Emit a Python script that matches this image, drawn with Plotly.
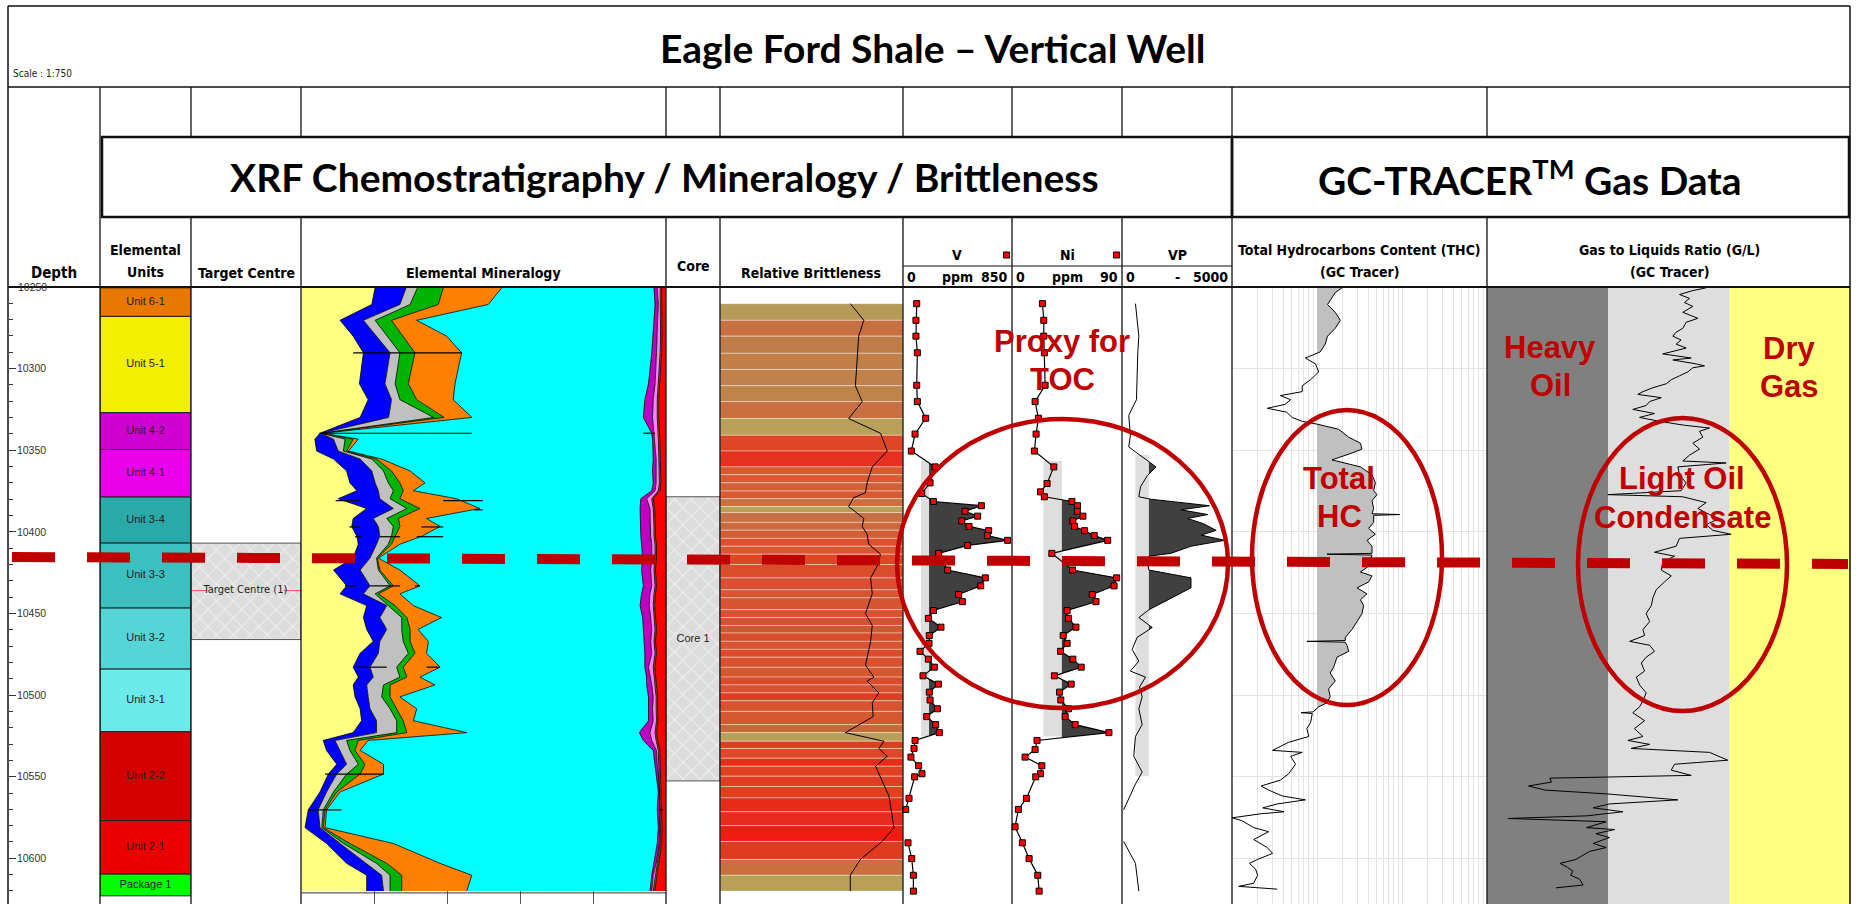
import math
import plotly.graph_objects as go

W, H = 1856, 904
LOG_TOP_PX = 287
DEPTH_RANGE = [10628, 10250]

SANS = "Liberation Sans, Arial, sans-serif"
NARROW = "Liberation Sans Narrow, Arial Narrow, DejaVu Sans Condensed, sans-serif"
TITLE = "Lato, Carlito, Calibri, sans-serif"
RED = "#C00000"

# ---------------- Elemental units ----------------
unit_names = ["Unit 6-1", "Unit 5-1", "Unit 4-2", "Unit 4-1", "Unit 3-4", "Unit 3-3",
              "Unit 3-2", "Unit 3-1", "Unit 2-2", "Unit 2-1", "Package 1"]
unit_tops = [10250.5, 10268.0, 10327.0, 10349.6, 10378.7, 10406.9, 10446.7, 10484.1,
             10522.5, 10576.9, 10609.7]
unit_bases = [10268.0, 10327.0, 10349.6, 10378.7, 10406.9, 10446.7, 10484.1, 10522.5,
              10576.9, 10609.7, 10623.0]
unit_colors = ["#E87800", "#F2F000", "#D000D0", "#E800E8", "#2AA9A9", "#3CBFBF",
               "#55D5D5", "#6CEAEA", "#D40000", "#EC0000", "#00FF00"]

# ---------------- Target / core intervals ----------------
target_top, target_base, target_mid = 10406.9, 10466.0, 10436.0
core_top, core_base = 10378.5, 10552.6

# ---------------- Elemental mineralogy (cumulative %, left to right) ----------------
min_depth = [10250.5, 10260.7, 10270.4, 10280.1, 10290.3, 10309.3, 10319.0, 10329.9, 10339.6, 10343.2,
             10350.5, 10355.4, 10362.7, 10370.0, 10374.8, 10379.7, 10385.7, 10391.8, 10396.7, 10402.7,
             10407.6, 10416.1, 10423.4, 10433.1, 10438.0, 10445.2, 10452.5, 10459.8, 10467.1, 10474.4,
             10482.9, 10489.0, 10493.8, 10501.1, 10508.4, 10515.7, 10523.0, 10527.8, 10533.9, 10542.4,
             10548.4, 10559.4, 10570.3, 10581.2, 10590.9, 10603.1, 10610.4, 10620.1]
edge_yellow = [20.3, 19.4, 10.7, 14.3, 17.1, 16.0, 18.4, 16.2, 5.2, 3.8,
               4.3, 8.9, 12.5, 13.4, 15.3, 10.2, 18.0, 14.3, 13.9, 15.3,
               15.7, 14.3, 8.9, 12.5, 10.7, 18.0, 17.1, 18.0, 19.8, 16.2,
               14.3, 15.7, 14.3, 14.8, 16.2, 16.6, 14.3, 6.1, 7.0, 9.8,
               7.5, 5.2, 2.0, 1.1, 7.0, 12.5, 18.0, 18.0]
edge_blue = [28.8, 27.1, 17.1, 20.7, 24.4, 23.0, 24.8, 24.0, 5.4, 8.9,
             10.2, 16.2, 19.4, 20.3, 21.2, 21.6, 25.3, 19.8, 21.2, 21.6,
             20.7, 18.9, 16.2, 18.9, 17.1, 23.5, 21.6, 23.5, 21.6, 21.2,
             18.9, 19.8, 18.0, 18.4, 18.9, 20.7, 20.7, 9.3, 10.7, 12.5,
             9.8, 7.0, 4.7, 5.2, 10.7, 18.0, 22.1, 22.6]
edge_gray = [31.9, 29.9, 20.3, 23.5, 27.1, 25.8, 27.1, 36.3, 5.6, 12.1,
             11.6, 19.4, 22.6, 23.9, 25.3, 24.4, 29.0, 23.5, 25.3, 24.8,
             23.9, 20.7, 21.2, 24.4, 20.3, 23.9, 27.6, 27.6, 28.0, 29.4,
             26.2, 27.1, 22.6, 22.1, 24.4, 26.2, 26.2, 12.5, 13.4, 15.7,
             12.5, 8.9, 6.1, 5.7, 11.6, 20.7, 24.4, 24.4]
edge_green = [39.0, 37.6, 24.8, 28.0, 31.2, 29.4, 31.7, 39.2, 5.8, 14.3,
              12.5, 20.7, 24.8, 27.1, 28.0, 27.1, 32.6, 26.7, 27.1, 25.8,
              24.8, 20.9, 21.6, 25.3, 21.2, 25.8, 29.0, 29.9, 29.9, 31.2,
              28.0, 29.0, 24.4, 24.4, 26.2, 28.0, 29.0, 15.7, 14.8, 17.5,
              16.2, 9.8, 6.6, 6.1, 13.4, 23.5, 27.6, 27.6]
edge_orange = [55.0, 51.3, 31.7, 39.9, 44.0, 42.2, 41.7, 46.8, 6.0, 15.7,
               13.0, 22.1, 29.9, 34.0, 30.8, 42.6, 49.0, 34.4, 38.1, 33.1,
               27.1, 21.2, 27.1, 32.6, 27.1, 30.8, 38.5, 32.1, 34.9, 34.4,
               38.1, 32.6, 36.7, 27.1, 31.7, 30.8, 45.4, 18.4, 16.2, 22.6,
               22.6, 10.7, 7.0, 6.6, 25.3, 38.1, 46.8, 45.4]
edge_cyan = [96.7, 97.0, 96.7, 96.5, 96.1, 95.2, 94.2, 93.8, 96.1, 96.3,
             96.5, 96.5, 96.3, 96.5, 96.1, 93.1, 92.9, 92.9, 92.9, 93.1,
             93.3, 93.6, 93.3, 93.8, 93.3, 92.9, 93.6, 93.8, 93.8, 94.2,
             94.2, 94.7, 94.7, 95.2, 95.2, 95.2, 92.7, 93.8, 96.5, 97.0,
             97.4, 97.9, 97.6, 97.9, 97.6, 96.7, 96.1, 95.6]
edge_magenta = [97.6, 97.9, 97.7, 97.6, 97.4, 97.0, 96.5, 96.3, 96.7, 97.0,
                97.1, 97.3, 97.3, 97.3, 97.0, 94.7, 95.6, 95.6, 95.8, 95.8,
                96.1, 96.1, 95.8, 96.1, 95.6, 95.4, 95.8, 96.1, 95.8, 96.1,
                95.2, 95.8, 96.1, 96.5, 96.3, 96.5, 95.6, 96.1, 97.4, 97.6,
                97.9, 98.2, 98.2, 98.4, 98.2, 97.3, 96.5, 96.1]
edge_pink = [98.4, 98.5, 98.5, 98.5, 98.4, 97.9, 97.6, 97.6, 97.9, 97.9,
             98.0, 98.1, 98.2, 98.2, 97.9, 96.1, 96.5, 96.7, 96.7, 96.7,
             97.0, 97.0, 96.7, 97.0, 96.7, 96.5, 96.7, 97.0, 96.7, 97.0,
             96.5, 96.7, 97.0, 97.3, 97.3, 97.4, 97.0, 97.3, 97.9, 98.0,
             98.2, 98.4, 98.5, 98.5, 98.4, 97.6, 97.0, 96.5]
edge_brown = [98.8, 98.9, 98.9, 98.9, 98.8, 98.3, 98.0, 98.0, 98.3, 98.3,
              98.4, 98.5, 98.6, 98.6, 98.3, 96.5, 96.9, 97.1, 97.1, 97.1,
              97.4, 97.4, 97.1, 97.4, 97.1, 96.9, 97.1, 97.4, 97.1, 97.4,
              96.9, 97.1, 97.4, 97.7, 97.7, 97.8, 97.4, 97.7, 98.3, 98.4,
              98.6, 98.8, 98.9, 98.9, 98.8, 98.0, 97.4, 96.9]
mineral_bands = [
    (edge_yellow, "#FFFF80"), (edge_blue, "#0000FF"), (edge_gray, "#C0C0C0"),
    (edge_green, "#00B400"), (edge_orange, "#FF8000"), (edge_cyan, "#00FFFF"),
    (edge_magenta, "#C000C0"), (edge_pink, "#FF80FF"), (edge_brown, "#A06000"),
]
MINERAL_FULL = 100.0
# sample marker strokes: (depth, from %, to %)
mineral_marks = [(10290.3, 14.3, 44.0), (10339.6, 5.0, 46.8), (10339.6, 93.8, 97.0),
                 (10380.9, 9.5, 16.2), (10380.9, 39.0, 49.8), (10386.5, 47.5, 49.8),
                 (10397.0, 13.3, 16.2), (10397.0, 33.0, 39.0), (10403.0, 14.8, 16.6),
                 (10403.0, 21.6, 27.1), (10403.0, 31.7, 39.0), (10433.1, 12.0, 15.3),
                 (10433.1, 18.9, 27.1), (10433.1, 31.2, 32.6), (10482.9, 15.3, 23.5),
                 (10482.9, 34.4, 38.1), (10548.4, 6.6, 22.6), (10570.3, 2.0, 11.1),
                 (10570.3, 98.0, 99.3)]

# ---------------- Relative brittleness ----------------
brit_edges = [10260.2, 10270.4, 10280.1, 10290.6, 10300.5, 10310.5, 10320.2, 10330.6, 10340.8, 10350.5,
              10360.2, 10365.0, 10370.0, 10375.0, 10379.7, 10384.5, 10388.2, 10394.2, 10399.0, 10404.0,
              10408.8, 10413.7, 10420.0, 10428.2, 10435.5, 10440.4, 10447.7, 10452.5, 10457.4, 10462.0,
              10467.1, 10472.0, 10476.8, 10483.0, 10489.0, 10493.8, 10498.7, 10503.5, 10510.0, 10518.1,
              10523.0, 10528.3, 10532.7, 10538.7, 10543.6, 10549.7, 10556.0, 10563.0, 10571.5, 10580.0,
              10589.7, 10600.7, 10610.4, 10620.1]
brit_colors = ["#B59A58", "#C87040", "#C07C48", "#C08048", "#C0824A", "#BE8448", "#C87040", "#B8A058",
               "#DE4628", "#E63020", "#D85830", "#D45C34", "#D06038", "#D85A34", "#C87040", "#B8A058",
               "#C87044", "#C86C40", "#D05E36", "#DC5030", "#D85632", "#E04624", "#DA4C2A", "#D85030",
               "#DA5430", "#D65632", "#DC5030", "#D85030", "#D4562E", "#DA4E2C", "#D65430", "#DC4C2A",
               "#D85230", "#D4582E", "#DA4C2C", "#D65232", "#E03C20", "#D85430", "#D45830", "#C86838",
               "#B8A058", "#E03C20", "#DC4828", "#E82C18", "#E04020", "#E03C22", "#E0401E", "#E82A18",
               "#E62C1A", "#F01C10", "#E03A20", "#C87040", "#B8A058"]
brit_depth = [10260.2, 10270.4, 10280.1, 10310.5, 10320.2, 10330.6, 10339.6, 10350.5, 10360.2, 10370.0,
              10376.0, 10379.2, 10384.5, 10391.8, 10396.7, 10401.5, 10407.6, 10413.7, 10421.0, 10428.2,
              10437.9, 10450.1, 10457.4, 10467.1, 10481.7, 10489.0, 10491.4, 10498.7, 10504.7, 10513.2,
              10523.0, 10528.3, 10532.7, 10537.5, 10543.6, 10561.8, 10581.2, 10589.7, 10600.7, 10610.4,
              10620.1]
brit_index = [0.712, 0.786, 0.758, 0.740, 0.777, 0.703, 0.877, 0.914, 0.832, 0.804,
              0.795, 0.729, 0.703, 0.786, 0.777, 0.804, 0.813, 0.877, 0.859, 0.823,
              0.832, 0.795, 0.832, 0.823, 0.795, 0.841, 0.804, 0.868, 0.832, 0.837,
              0.685, 0.896, 0.868, 0.914, 0.850, 0.923, 0.951, 0.886, 0.767, 0.712,
              0.712]

# ---------------- V / Ni / VP ----------------
v_depth = [10260.2, 10270.4, 10280.1, 10290.3, 10310.2, 10320.2, 10330.4, 10340.1, 10350.5, 10360.2,
           10370.0, 10376.5, 10381.4, 10384.0, 10387.4, 10390.4, 10393.3, 10396.7, 10399.3, 10402.3,
           10405.2, 10408.3, 10413.2, 10423.4, 10428.2, 10433.1, 10438.4, 10442.8, 10448.2, 10453.0,
           10458.4, 10463.5, 10468.3, 10473.2, 10478.0, 10482.9, 10488.2, 10493.3, 10498.2, 10503.0,
           10508.4, 10513.2, 10518.1, 10523.0, 10527.8, 10532.7, 10538.0, 10543.3, 10548.2, 10550.1,
           10563.3, 10570.1, None, 10590.5, 10600.2, 10610.4, 10620.1]
v_ppm = [107, 101, 101, 112, 107, 112, 177, 94, 65, 250,
         211, 146, 237, 611, 484, 582, 458, 515, 668, 658,
         816, 504, 278, 348, 642, 606, 434, 463, 237, 198,
         296, 205, 203, 133, 198, 244, 156, 276, 205, 211,
         268, 185, 255, 283, 94, 86, 62, 122, 148, 91,
         47, 21, None, 39, 68, 81, 81]
v_cutoff, v_zone_low = 203, 140

ni_depth = [10260.2, 10270.4, 10280.1, 10290.3, 10310.2, 10320.2, 10330.4, 10340.1, 10350.5, 10360.2,
            10370.4, 10375.5, 10378.5, 10381.4, 10384.0, 10387.4, 10390.4, 10393.3, 10396.7, 10399.3,
            10402.3, 10405.2, 10413.2, 10423.4, 10428.2, 10433.1, 10438.4, 10442.8, 10448.2, 10453.0,
            10458.4, 10463.5, 10468.3, 10473.2, 10478.0, 10482.9, 10488.2, 10493.3, 10498.2, 10503.0,
            10508.4, 10513.2, 10518.1, 10523.0, 10527.8, 10533.4, 10538.0, 10543.3, 10548.2, 10550.1,
            10563.3, 10570.1, 10580.7, 10590.5, 10600.2, 10610.4, 10620.1]
ni_ppm = [24.9, 26.0, 26.0, 26.5, 27.1, 18.9, 21.6, 19.7, 18.3, 34.2,
          28.7, 23.3, 26.5, 49.0, 53.6, 53.4, 58.0, 49.8, 51.2, 59.4,
          67.3, 78.3, 32.6, 49.5, 85.6, 83.5, 65.7, 68.7, 45.1, 46.2,
          52.3, 41.9, 45.1, 39.7, 49.8, 56.6, 34.7, 48.4, 38.9, 39.9,
          46.2, 43.5, 51.7, 79.3, 20.5, 18.9, 10.7, 24.4, 23.3, 19.4,
          11.8, 5.2, 2.5, 8.5, 14.0, 21.1, 22.2]
ni_cutoff, ni_zone_low = 40.8, 25.7
vni_zone = (10356.6, 10525.4)

vp_depth = [10260.2, 10270.4, 10280.1, 10289.8, 10300.0, 10310.5, 10319.0, 10328.7, 10340.8, 10348.0,
            10360.2, 10365.6, 10372.4, 10378.5, 10380.0, 10384.0, 10386.5, 10389.4, 10391.8, 10395.0,
            10399.1, 10402.0, 10405.2, 10408.8, 10413.2, 10414.9, 10418.0, 10423.4, 10428.2, 10434.3,
            10441.0, 10447.7, 10452.5, 10458.6, 10464.7, 10472.0, 10479.2, 10485.3, 10489.0, 10495.0,
            10501.1, 10508.4, 10518.1, 10525.4, 10537.5, 10547.2, 10554.5, 10570.3, None, 10589.7,
            10603.1, 10620.1]
vp_val = [612, 688, 765, 719, 700, 688, 658, 306, 382, 306,
          1544, 1150, 841, 765, 1300, 3975, 2676, 3899, 2982, 3700,
          4281, 3600, 4664, 3135, 2217, 1223, 1150, 1223, 3135, 3135,
          2200, 1223, 765, 1376, 688, 459, 765, 382, 1070, 800,
          917, 765, 917, 612, 535, 917, 612, 76, None, 76,
          612, 765]
vp_cutoff, vp_zone_low = 1223, 612
vp_zone = (10353.0, 10549.7)

# ---------------- GC-TRACER total hydrocarbons ----------------
thc_depth = [10250.5, 10253.4, 10260.7, 10265.5, 10270.4, 10275.3, 10280.1, 10285.0, 10289.8, 10293.5,
             10297.1, 10302.0, 10306.8, 10310.5, 10314.1, 10316.5, 10319.0, 10321.9, 10324.3, 10326.7,
             10329.9, 10332.3, 10334.0, 10337.2, 10342.0, 10345.7, 10349.3, 10351.7, 10355.9, 10360.2,
             10365.1, 10370.0, 10374.8, 10377.2, 10380.9, 10385.7, 10388.9, 10389.4, 10389.9, 10394.2,
             10397.9, 10401.5, 10405.2, 10408.8, 10413.2, 10413.7, 10414.2, 10421.0, 10424.6, 10427.0,
             10430.7, 10434.3, 10438.0, 10441.6, 10445.2, 10450.1, 10455.0, 10459.8, 10464.7, 10466.6,
             10467.1, 10467.6, 10469.5, 10473.2, 10476.8, 10482.9, 10486.5, 10491.4, 10496.2, 10501.1,
             10504.7, 10507.2, 10510.3, 10510.8, 10511.3, 10516.9, 10520.5, 10525.4, 10529.0, 10533.4,
             10533.9, 10535.1, 10537.5, 10542.4, 10548.4, 10552.1, 10555.7, 10558.2, 10561.8, 10564.2,
             10566.7, 10569.1, 10571.5, 10572.7, 10575.2, 10576.9, 10581.2, 10583.7, 10588.5, 10593.4,
             10597.0, 10600.7, 10603.1, 10606.7, 10610.4, 10615.3, 10617.2, 10618.9]
thc_val = [19.7, 16.4, 13.3, 16.4, 18.8, 16.4, 13.3, 12.5, 10.9, 7.3,
           9.6, 10.5, 8.4, 6.7, 6.7, 3.7, 4.9, 4.2, 2.6, 4.4,
           5.1, 6.7, 10.0, 18.0, 23.6, 32.4, 33.8, 25.8, 15.0, 32.4,
           44.4, 48.6, 46.4, 50.8, 44.4, 46.4, 44.4, 94.0, 46.4, 46.4,
           40.5, 48.6, 38.7, 44.4, 44.4, 13.1, 44.4, 40.5, 32.4, 44.4,
           40.5, 29.6, 38.7, 32.4, 35.4, 33.8, 29.6, 25.8, 21.5, 21.5,
           7.6, 21.5, 22.5, 23.6, 17.2, 15.7, 14.3, 16.4, 13.7, 14.3,
           13.1, 10.5, 9.0, 6.5, 8.8, 8.4, 7.6, 8.0, 4.6, 3.0,
           3.0, 6.7, 4.9, 5.6, 4.6, 3.7, 2.2, 2.7, 3.9, 7.3,
           3.4, 2.3, 4.1, 2.2, 1.0, 1.3, 1.8, 2.7, 1.8, 2.6,
           3.0, 2.0, 1.6, 1.9, 2.0, 1.8, 1.2, 3.4]
thc_baseline = 10.0

# ---------------- GC-TRACER gas to liquids ratio ----------------
gl_depth = [10250.5, 10252.2, 10254.6, 10257.0, 10259.5, 10261.9, 10265.5, 10269.2, 10271.6, 10275.3,
            10277.7, 10280.1, 10282.5, 10285.0, 10287.4, 10291.0, 10293.5, 10294.7, 10297.1, 10298.3,
            10299.5, 10302.0, 10304.4, 10306.8, 10309.3, 10311.7, 10314.1, 10315.8, 10317.8, 10320.2,
            10322.6, 10325.0, 10327.5, 10329.9, 10332.3, 10334.7, 10336.4, 10338.4, 10342.0, 10345.7,
            10349.3, 10353.0, 10356.6, 10357.8, 10360.2, 10365.1, 10370.0, 10374.8, 10377.2, 10378.5,
            10382.1, 10385.7, 10389.4, 10391.8, 10395.5, 10399.1, 10401.5, 10404.0, 10408.8, 10412.5,
            10414.9, 10418.5, 10423.4, 10427.0, 10430.7, 10435.5, 10440.4, 10445.2, 10450.1, 10455.0,
            10459.8, 10463.5, 10467.1, 10469.5, 10473.2, 10476.8, 10480.4, 10485.3, 10489.0, 10493.8,
            10498.7, 10503.5, 10507.2, 10510.8, 10515.7, 10520.5, 10525.4, 10527.8, 10530.2, 10532.7,
            10535.1, 10537.5, 10539.9, 10542.4, 10546.0, 10549.2, 10550.9, 10553.3, 10555.7, 10558.2,
            10560.6, 10564.2, 10566.7, 10569.1, 10571.5, 10574.0, 10575.6, 10577.6, 10581.2, 10582.4,
            10584.9, 10587.3, 10590.9, 10593.4, 10595.8, 10600.7, 10603.1, 10605.5, 10607.9, 10610.4,
            10612.8, 10616.4, 10618.1]
gl_ratio = [64.0, 49.7, 38.6, 46.7, 42.4, 49.7, 41.1, 54.7, 43.8, 41.1,
            36.2, 34.0, 39.8, 36.2, 43.8, 28.1, 48.2, 34.0, 52.9, 62.0,
            49.7, 45.2, 38.6, 33.0, 30.0, 23.3, 19.3, 17.5, 27.3, 21.9,
            20.5, 15.9, 24.0, 18.1, 26.4, 42.4, 68.2, 56.4, 60.1, 49.7,
            56.4, 46.7, 41.1, 93.5, 37.4, 38.6, 43.8, 39.8, 9.9, 41.1,
            64.0, 54.7, 68.2, 82.4, 64.0, 72.6, 102.8, 38.6, 36.2, 24.0,
            35.1, 28.1, 27.3, 33.0, 29.0, 24.8, 23.3, 22.6, 20.5, 21.9,
            19.3, 19.9, 15.0, 21.9, 24.0, 20.5, 18.7, 19.9, 17.0, 18.1,
            20.5, 19.3, 18.1, 15.9, 19.9, 16.4, 19.3, 14.5, 21.9, 15.4,
            68.2, 79.8, 96.5, 35.1, 33.0, 48.2, 3.3, 3.4, 2.2, 3.0,
            9.9, 37.4, 10.2, 7.5, 13.2, 6.6, 1.5, 9.6, 6.6, 11.3,
            7.9, 10.2, 7.5, 9.6, 7.0, 5.4, 4.0, 4.6, 5.1, 4.9,
            5.8, 6.2, 3.7]
gl_classes = [("Heavy Oil", 1, 10, "#808080"), ("Light Oil / Condensate", 10, 100, "#DEDEDE"),
              ("Dry Gas", 100, 1000, "#FFFF80")]


# ---------------- helpers ----------------
def pxx(x):
    return x / W


def pxy(y):
    return 1 - y / H


def clipped_above(depth, values, cutoff, log=False):
    """Curve clipped to the part that lies above a cutoff, with crossing points added."""
    pts = [(d, v) for d, v in zip(depth, values) if d is not None and v is not None]
    f = math.log10 if log else (lambda a: a)
    c = f(cutoff)
    dd, vv = [], []
    for i, (d, v) in enumerate(pts):
        if i > 0:
            d0, v0 = pts[i - 1]
            a0, a1 = f(v0) - c, f(v) - c
            if a0 * a1 < 0:
                t = a0 / (a0 - a1)
                dd.append(d0 + t * (d - d0))
                vv.append(cutoff)
        dd.append(d)
        vv.append(max(v, cutoff))
    return dd, vv


fig = go.Figure()

# ---------------- track axes ----------------
tracks = {
    "x": (100, 191, [0, 1], "linear"),
    "x2": (191, 301, [0, 1], "linear"),
    "x3": (301, 666, [0, 100], "linear"),
    "x4": (666, 720, [0, 1], "linear"),
    "x5": (720, 903, [0, 1], "linear"),
    "x6": (903, 1012, [0, 850], "linear"),
    "x7": (1012, 1122, [0, 90], "linear"),
    "x8": (1122, 1232, [0, 5000], "linear"),
    "x9": (1232, 1487, [0, 3], "log"),
    "x10": (1487, 1851, [0, 3], "log"),
}
layout_axes = {}
for name, (x0, x1, rng, typ) in tracks.items():
    key = "xaxis" if name == "x" else "xaxis" + name[1:]
    layout_axes[key] = dict(domain=[pxx(x0), pxx(x1)], range=rng, type=typ, anchor="y",
                            visible=False, fixedrange=True)
layout_axes["xaxis3"].update(visible=True, showgrid=False, zeroline=False, showline=False,
                             tickvals=[20, 40, 60, 80], ticks="inside", ticklen=13,
                             tickcolor="#555", tickwidth=1, showticklabels=False)
layout_axes["xaxis9"].update(visible=True, anchor="y2", showgrid=True, gridcolor="#E4E4E4",
                             gridwidth=1, dtick="D1", showticklabels=False, ticks="",
                             zeroline=False, showline=False)

ydom = [0, pxy(LOG_TOP_PX)]
layout_axes["yaxis"] = dict(
    domain=ydom, range=DEPTH_RANGE, anchor="free", position=pxx(8), side="left",
    showgrid=False, zeroline=False, showline=False,
    ticks="inside", ticklen=7, tickwidth=1, tickcolor="#333",
    ticklabelposition="inside", tick0=10250, dtick=50, tickformat="d",
    minor=dict(dtick=10, ticks="inside", ticklen=4, tickcolor="#333"),
    tickfont=dict(size=10.5, color="#333", family=SANS), fixedrange=True,
)
layout_axes["yaxis2"] = dict(
    domain=ydom, range=DEPTH_RANGE, anchor="x9", showgrid=True, gridcolor="#E4E4E4",
    tick0=10250, dtick=50, showticklabels=False, ticks="", zeroline=False, showline=False,
    fixedrange=True,
)

# ---------------- elemental units ----------------
unit_mid = [(t + b) / 2 for t, b in zip(unit_tops, unit_bases)]
unit_thk = [b - t for t, b in zip(unit_tops, unit_bases)]
fig.add_trace(go.Bar(y=unit_mid, x=[1] * len(unit_mid), base=0, width=unit_thk, orientation="h",
                     marker=dict(color=unit_colors, line=dict(color="#202020", width=1)),
                     xaxis="x", yaxis="y"))
fig.add_trace(go.Scatter(x=[0.5] * len(unit_mid), y=unit_mid, mode="text", text=unit_names,
                         textfont=dict(size=11, color="#222", family=SANS), xaxis="x", yaxis="y"))

# ---------------- target centre ----------------
hatch = dict(shape="x", fgcolor="#FFFFFF", bgcolor="#DCDCDC", size=12, solidity=0.18)
fig.add_trace(go.Scatter(x=[0, 1, 1, 0, 0], y=[target_top, target_top, target_base, target_base, target_top],
                         mode="lines", fill="toself", fillcolor="#DCDCDC", fillpattern=hatch,
                         line=dict(color="#555", width=1), xaxis="x2", yaxis="y"))
fig.add_trace(go.Scatter(x=[0, 0.145, None, 0.845, 1], y=[target_mid, target_mid, None, target_mid, target_mid],
                         mode="lines", line=dict(color="#FF5050", width=1), xaxis="x2", yaxis="y"))
fig.add_trace(go.Scatter(x=[0.495], y=[target_mid], mode="text", text=["Target Centre (1)"],
                         textfont=dict(size=11, color="#222", family=NARROW), xaxis="x2", yaxis="y"))

# ---------------- elemental mineralogy ----------------
for i, (edge, color) in enumerate(mineral_bands):
    fig.add_trace(go.Scatter(x=edge, y=min_depth, mode="lines", fill="tozerox" if i == 0 else "tonextx",
                             fillcolor=color, line=dict(color="#000", width=0.8),
                             xaxis="x3", yaxis="y"))
fig.add_trace(go.Scatter(x=[MINERAL_FULL] * len(min_depth), y=min_depth, mode="lines", fill="tonextx",
                         fillcolor="#FF0000", line=dict(color="#FF0000", width=0.5),
                         xaxis="x3", yaxis="y"))
mx, my = [], []
for d, a, b in mineral_marks:
    mx += [a, b, None]
    my += [d, d, None]
fig.add_trace(go.Scatter(x=mx, y=my, mode="lines", line=dict(color="#000", width=1.2),
                         xaxis="x3", yaxis="y"))

# ---------------- core ----------------
fig.add_trace(go.Scatter(x=[0, 1, 1, 0, 0], y=[core_top, core_top, core_base, core_base, core_top],
                         mode="lines", fill="toself", fillcolor="#DCDCDC", fillpattern=hatch,
                         line=dict(color="#555", width=1), xaxis="x4", yaxis="y"))
fig.add_trace(go.Scatter(x=[0.5], y=[(core_top + core_base) / 2], mode="text", text=["Core 1"],
                         textfont=dict(size=11, color="#222", family=SANS), xaxis="x4", yaxis="y"))

# ---------------- relative brittleness ----------------
b_mid = [(a + b) / 2 for a, b in zip(brit_edges[:-1], brit_edges[1:])]
b_thk = [b - a for a, b in zip(brit_edges[:-1], brit_edges[1:])]
fig.add_trace(go.Bar(y=b_mid, x=[1] * len(b_mid), base=0, width=b_thk, orientation="h",
                     marker=dict(color=brit_colors, line=dict(color="rgba(255,255,255,0.55)", width=0.7)),
                     xaxis="x5", yaxis="y"))
fig.add_trace(go.Scatter(x=brit_index, y=brit_depth, mode="lines", line=dict(color="#000", width=1),
                         xaxis="x5", yaxis="y"))


# ---------------- V / Ni / VP with cutoff shading ----------------
def shaded_log(xa, depth, vals, zone, low, cutoff, markers):
    fig.add_trace(go.Scatter(x=[low, cutoff, cutoff, low, low], y=[zone[0], zone[0], zone[1], zone[1], zone[0]],
                             mode="lines", fill="toself", fillcolor="#DEDEDE", line=dict(width=0),
                             xaxis=xa, yaxis="y"))
    dd, vv = clipped_above(depth, vals, cutoff)
    fig.add_trace(go.Scatter(x=[cutoff] * len(dd), y=dd, mode="lines", line=dict(width=0),
                             xaxis=xa, yaxis="y"))
    fig.add_trace(go.Scatter(x=vv, y=dd, mode="lines", fill="tonextx", fillcolor="#404040",
                             line=dict(width=0), xaxis=xa, yaxis="y"))
    if markers:
        fig.add_trace(go.Scatter(x=vals, y=depth, mode="lines+markers", connectgaps=False,
                                 line=dict(color="#000", width=1.2),
                                 marker=dict(symbol="square", size=6, color="#FF0000",
                                             line=dict(color="#000", width=1)),
                                 cliponaxis=False, xaxis=xa, yaxis="y"))
    else:
        fig.add_trace(go.Scatter(x=vals, y=depth, mode="lines", connectgaps=False,
                                 line=dict(color="#000", width=1), xaxis=xa, yaxis="y"))


shaded_log("x6", v_depth, v_ppm, vni_zone, v_zone_low, v_cutoff, True)
shaded_log("x7", ni_depth, ni_ppm, vni_zone, ni_zone_low, ni_cutoff, True)
shaded_log("x8", vp_depth, vp_val, vp_zone, vp_zone_low, vp_cutoff, False)

# ---------------- THC ----------------
dd, vv = clipped_above(thc_depth, thc_val, thc_baseline, log=True)
fig.add_trace(go.Scatter(x=[thc_baseline] * len(dd), y=dd, mode="lines", line=dict(width=0),
                         xaxis="x9", yaxis="y2"))
fig.add_trace(go.Scatter(x=vv, y=dd, mode="lines", fill="tonextx", fillcolor="#C0C0C0",
                         line=dict(width=0), xaxis="x9", yaxis="y2"))
fig.add_trace(go.Scatter(x=thc_val, y=thc_depth, mode="lines", line=dict(color="#000", width=1),
                         xaxis="x9", yaxis="y2"))

# ---------------- G/L ----------------
for _, lo, hi, color in gl_classes:
    fig.add_trace(go.Scatter(x=[lo, hi, hi, lo, lo],
                             y=[DEPTH_RANGE[1], DEPTH_RANGE[1], DEPTH_RANGE[0], DEPTH_RANGE[0], DEPTH_RANGE[1]],
                             mode="lines", fill="toself", fillcolor=color, line=dict(width=0),
                             xaxis="x10", yaxis="y"))
fig.add_trace(go.Scatter(x=gl_ratio, y=gl_depth, mode="lines", line=dict(color="#000", width=1),
                         xaxis="x10", yaxis="y"))

# ---------------- frame and header grid ----------------
shapes = []


def hline(y, x0, x1, w=1.5):
    shapes.append(dict(type="line", xref="paper", yref="paper", x0=pxx(x0), x1=pxx(x1), y0=pxy(y), y1=pxy(y),
                       line=dict(color="#111", width=w)))


def vline(x, y0, y1, w=1.3):
    shapes.append(dict(type="line", xref="paper", yref="paper", x0=pxx(x), x1=pxx(x), y0=pxy(y0), y1=pxy(y1),
                       line=dict(color="#111", width=w)))


def box(x0, y0, x1, y1, w=2.5):
    shapes.append(dict(type="rect", xref="paper", yref="paper", x0=pxx(x0), x1=pxx(x1), y0=pxy(y0), y1=pxy(y1),
                       line=dict(color="#111", width=w)))


col_lines = [191, 301, 666, 720, 903, 1012, 1122, 1487]
vline(8, 6, H, 1.5)
vline(1850, 6, H, 1.5)
hline(6, 8, 1850, 1.5)
hline(87, 8, 1850, 1.5)
vline(100, 87, H)
vline(1232, 87, H)
for x in col_lines:
    vline(x, 87, 137)
    vline(x, 217, H)
box(102, 137, 1232, 217)
box(1232, 137, 1849, 217)
hline(287, 8, 1850, 2)
hline(266, 903, 1232, 1.2)
# mineralogy track base line
shapes.append(dict(type="line", xref="x3", yref="y", x0=0, x1=100, y0=10621.2, y1=10621.2,
                   line=dict(color="#333", width=1)))
# legend glyphs next to V and Ni
for gx in (1006.5, 1116.5):
    shapes.append(dict(type="rect", xref="paper", yref="paper", x0=pxx(gx - 3), x1=pxx(gx + 3),
                       y0=pxy(258), y1=pxy(252), fillcolor="#FF0000", line=dict(color="#000", width=1)))

# interpretation ellipses and target line
for (x0, y0, x1, y1) in [(897, 419, 1228, 708), (1252, 410, 1442, 705), (1578, 418, 1787, 711)]:
    shapes.append(dict(type="circle", xref="paper", yref="paper", x0=pxx(x0), x1=pxx(x1),
                       y0=pxy(y1), y1=pxy(y0), line=dict(color=RED, width=4.5)))
shapes.append(dict(type="line", xref="paper", yref="paper", x0=pxx(12), x1=pxx(1848), y0=pxy(557), y1=pxy(564),
                   line=dict(color=RED, width=10, dash="43px,32px")))

# ---------------- text ----------------
annotations = []


def label(s, x, y, size, family=NARROW, color="#000", anchor="center"):
    annotations.append(dict(text=s, x=pxx(x), y=pxy(y), xref="paper", yref="paper", xanchor=anchor,
                            yanchor="middle", showarrow=False, font=dict(size=size, family=family, color=color)))


label("<b>Eagle Ford Shale – Vertical Well</b>", 933, 48, 39, TITLE)
label("Scale : 1:750", 11, 74, 10, NARROW, "#222", "left")
label("<b>XRF Chemostratigraphy / Mineralogy / Brittleness</b>", 664, 177, 39, TITLE)
label("<b>GC-TRACER<sup>TM</sup> Gas Data</b>", 1530, 177, 39, TITLE)
# top depth value sits on the header rule
label(str(DEPTH_RANGE[1]), 16, 287, 10.5, SANS, "#333", "left")

HS = 14
label("<b>Depth</b>", 54, 273, 15)
label("<b>Elemental</b>", 145, 250, HS)
label("<b>Units</b>", 145, 272, HS)
label("<b>Target Centre</b>", 246, 273, HS)
label("<b>Elemental Mineralogy</b>", 483, 273, HS)
label("<b>Core</b>", 693, 266, HS)
label("<b>Relative Brittleness</b>", 811, 273, HS)
label("<b>V</b>", 957, 255, HS)
label("<b>Ni</b>", 1067, 255, HS)
label("<b>VP</b>", 1177, 255, HS)
for x0, mid, x1, lo, unit, hi in [(905, 957, 1010, "0", "ppm", "850"), (1014, 1067, 1120, "0", "ppm", "90"),
                                   (1124, 1177, 1230, "0", "-", "5000")]:
    label(f"<b>{lo}</b>", x0, 277, HS, anchor="left")
    label(f"<b>{unit}</b>", mid, 277, HS)
    label(f"<b>{hi}</b>", x1, 277, HS, anchor="right")
label("<b>Total Hydrocarbons Content (THC)</b>", 1359, 250, HS)
label("<b>(GC Tracer)</b>", 1359, 272, HS)
label("<b>Gas to Liquids Ratio (G/L)</b>", 1669, 250, HS)
label("<b>(GC Tracer)</b>", 1669, 272, HS)

for s, x, y in [("Proxy for", 1062, 341), ("TOC", 1062, 379), ("Total", 1339, 478), ("HC", 1339, 516),
                ("Heavy", 1550, 347), ("Oil", 1550, 385), ("Dry", 1789, 348), ("Gas", 1789, 386),
                ("Light Oil", 1682, 478), ("Condensate", 1682, 517)]:
    label(f"<b>{s}</b>", x, y, 31, SANS, RED)

fig.update_layout(
    width=W, height=H, margin=dict(l=0, r=0, t=0, b=0),
    paper_bgcolor="white", plot_bgcolor="white",
    showlegend=False, hovermode=False, barmode="overlay",
    font=dict(family=SANS, color="#111"),
    shapes=shapes, annotations=annotations, **layout_axes,
)

fig.write_html("out.html")
